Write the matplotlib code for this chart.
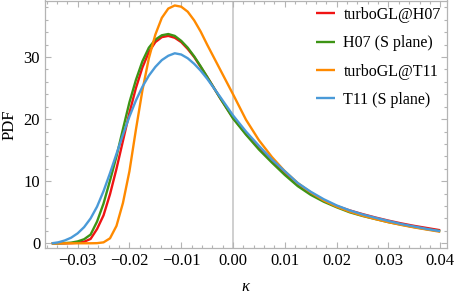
import matplotlib
matplotlib.use("Agg")
import matplotlib.pyplot as plt
from matplotlib.ticker import MultipleLocator

kappa = [-0.035, -0.03375, -0.0325, -0.03125, -0.03, -0.02875, -0.0275, -0.02625,
         -0.025, -0.02375, -0.0225, -0.02125, -0.02, -0.01875, -0.0175, -0.01625,
         -0.015, -0.01375, -0.0125, -0.01125, -0.01, -0.00875, -0.0075, -0.00625,
         -0.005, -0.0025, 0.0, 0.0025, 0.005, 0.0075, 0.01, 0.0125, 0.015, 0.0175,
         0.02, 0.0225, 0.025, 0.0275, 0.03, 0.0325, 0.035, 0.0375, 0.04]

turbo_h07 = [0.0, 0.0, 0.0, 0.02, 0.08, 0.25, 0.7, 2.3,
             4.5, 7.9, 12.0, 16.5, 21.0, 25.0, 28.3, 30.8,
             32.4, 33.2, 33.4, 33.1, 32.4, 31.3, 30.0, 28.4,
             26.8, 23.4, 20.2, 17.6, 15.3, 13.2, 11.3, 9.4, 8.0, 6.9,
             6.0, 5.3, 4.7, 4.15, 3.65, 3.2, 2.8, 2.45, 2.1]

h07_splane = [0.0, 0.0, 0.03, 0.1, 0.3, 0.65, 1.4, 3.5,
              6.4, 10.1, 14.0, 18.4, 22.7, 26.3, 29.3, 31.5,
              32.8, 33.5, 33.7, 33.4, 32.6, 31.5, 30.1, 28.5,
              26.8, 23.4, 20.1, 17.5, 15.1, 13.0, 11.0, 9.2, 7.8, 6.7,
              5.8, 5.0, 4.4, 3.9, 3.4, 3.0, 2.6, 2.25, 1.95]

turbo_t11 = [0.0, 0.0, 0.0, 0.0, 0.0, 0.0, 0.0, 0.02,
             0.15, 0.8, 2.8, 6.5, 11.6, 18.3, 24.6, 29.8,
             33.6, 36.3, 37.8, 38.3, 38.1, 37.3, 35.9, 34.1,
             32.0, 28.0, 24.0, 19.9, 16.6, 13.9, 11.6, 9.7, 8.2, 6.9,
             5.9, 5.1, 4.45, 3.9, 3.4, 2.95, 2.55, 2.2, 1.85]

t11_splane = [0.0, 0.15, 0.45, 0.9, 1.6, 2.6, 4.0, 5.9,
              8.4, 11.3, 14.4, 17.5, 20.4, 23.0, 25.2, 27.0,
              28.4, 29.5, 30.2, 30.6, 30.4, 29.8, 28.9, 27.8,
              26.5, 23.6, 20.6, 18.0, 15.7, 13.5, 11.6, 9.7, 8.3, 7.1,
              6.1, 5.3, 4.65, 4.1, 3.6, 3.1, 2.7, 2.3, 1.95]

labels = ["turboGL@H07", "H07 (S plane)", "turboGL@T11", "T11 (S plane)"]
colors = ["#f01414", "#3d9415", "#ff8a00", "#4a9ad8"]
series = [turbo_h07, h07_splane, turbo_t11, t11_splane]

xticks = [-0.03, -0.02, -0.01, 0.0, 0.01, 0.02, 0.03, 0.04]
xticklabels = ["\u22120.03", "\u22120.02", "\u22120.01", "0.00", "0.01", "0.02", "0.03", "0.04"]
yticks = [0, 10, 20, 30]

serif = ["Liberation Serif", "DejaVu Serif"]
plt.rcParams["font.family"] = serif

fig = plt.figure(figsize=(4.56, 2.94), dpi=100)
ax = fig.add_axes([45 / 456, 46 / 294, (446.7 - 45) / 456, (294 - 46 - 0.5) / 294])

ax.axvline(0.0, color="#cccccc", lw=1.3, zorder=1)
for y, c, lab in zip(series, colors, labels):
    ax.plot(kappa, y, color=c, lw=1.7, label=lab, zorder=2,
            solid_joinstyle="round", solid_capstyle="butt")

ax.set_xlim(-0.0363, 0.04125)
ax.set_ylim(-0.76, 39.1)
ax.set_xticks(xticks)
ax.set_xticklabels(xticklabels)
ax.set_yticks(yticks)
ax.xaxis.set_minor_locator(MultipleLocator(0.002))
ax.yaxis.set_minor_locator(MultipleLocator(2))

frame_col = "#b4b4b4"
for s in ax.spines.values():
    s.set_color(frame_col)
    s.set_linewidth(0.9)
ax.tick_params(which="both", direction="in", top=True, right=True,
               color=frame_col, width=0.8, labelsize=12, labelcolor="black")
ax.tick_params(which="major", length=4.5, pad=3.5)
ax.tick_params(which="minor", length=2.5)

ax.set_ylabel("PDF", fontsize=12, labelpad=4)
ax.set_xlabel("\u03ba", fontsize=12, style="italic", labelpad=7)

leg = ax.legend(loc="upper left", bbox_to_anchor=(0.675, 0.974), frameon=False,
                fontsize=11.5, handlelength=1.15, handletextpad=0.56,
                labelspacing=0.77, borderaxespad=0.0, borderpad=0.0)

fig.savefig("out.png", dpi=100)
